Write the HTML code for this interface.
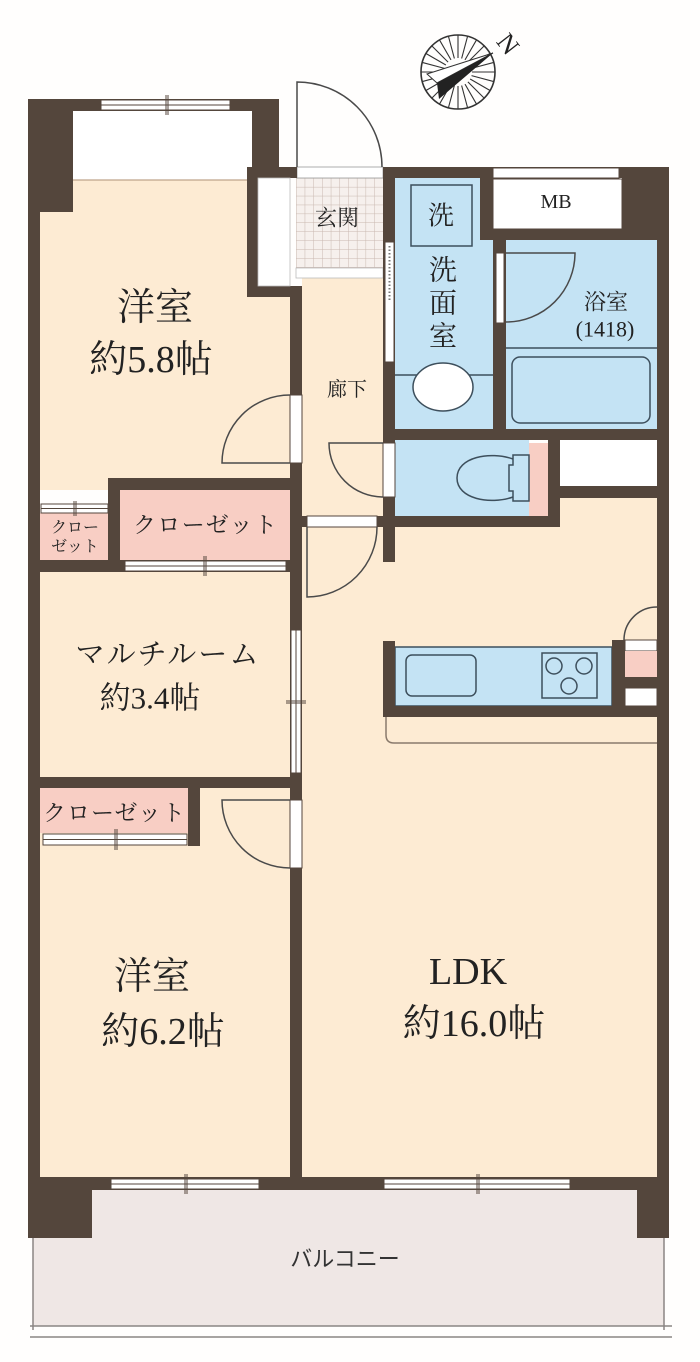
<!DOCTYPE html>
<html><head><meta charset="utf-8"><style>
html,body{margin:0;padding:0;background:#fffefd;}
svg{display:block;}
.t{font-family:"Liberation Serif","Noto Serif CJK SC",serif;fill:#222;text-anchor:middle;dominant-baseline:central;}
.s{font-family:"Liberation Sans","Noto Sans CJK JP",sans-serif;fill:#333;text-anchor:middle;dominant-baseline:central;}
</style></head><body>
<svg width="700" height="1362" viewBox="0 0 700 1362" xmlns="http://www.w3.org/2000/svg">
<defs>
<pattern id="tile" width="8.7" height="8.9" patternUnits="userSpaceOnUse" x="296" y="178">
<rect width="8.7" height="8.9" fill="#f6f0ed"/>
<path d="M0,0 H8.7 M0,0 V8.9" stroke="#c9b8b0" stroke-width="1"/>
</pattern>
</defs>
<rect width="700" height="1362" fill="#fffefd"/>

<!-- floors -->
<g fill="#fdebd3">
<rect x="40" y="180" width="250" height="310"/>
<rect x="40" y="572" width="250" height="205"/>
<rect x="40" y="788" width="250" height="389"/>
<rect x="302" y="278" width="81" height="249"/>
<rect x="302" y="498" width="355" height="679"/>
</g>
<rect x="73" y="111" width="179" height="69" fill="#fff"/>
<line x1="73" y1="180" x2="247" y2="180" stroke="#bfa58a" stroke-width="1.2"/>
<rect x="258" y="178" width="32" height="108" fill="#fff"/>

<!-- genkan -->
<rect x="296" y="178" width="87" height="90" fill="url(#tile)"/>
<rect x="296" y="268" width="87" height="10" fill="#fff" stroke="#bbb" stroke-width="0.8"/>
<rect x="297" y="167" width="86" height="11" fill="#fff" stroke="#999" stroke-width="0.8"/>

<!-- pink closets -->
<g fill="#f8cec4">
<rect x="40" y="513" width="68" height="47"/>
<rect x="120" y="490" width="170" height="70"/>
<rect x="40" y="788" width="148" height="45"/>
<rect x="529" y="443" width="19" height="73"/>
</g>

<!-- blue wet areas -->
<g fill="#c4e3f4">
<rect x="395" y="178" width="98" height="251"/>
<rect x="506" y="240" width="151" height="189"/>
<rect x="395" y="440" width="134" height="76"/>
<rect x="395" y="647" width="217" height="59"/>
</g>
<rect x="560" y="440" width="97" height="46" fill="#fff"/>

<!-- balcony -->
<rect x="92" y="1190" width="545" height="48" fill="#efe7e5"/>
<rect x="33" y="1238" width="631" height="88" fill="#efe7e5"/>
<g stroke="#8a8583" stroke-width="1.5">
<line x1="33" y1="1238" x2="33" y2="1330"/>
<line x1="664" y1="1238" x2="664" y2="1330"/>
<line x1="30" y1="1326" x2="672" y2="1326"/>
<line x1="30" y1="1337" x2="672" y2="1337"/>
</g>

<!-- fixtures -->
<g fill="none" stroke="#3d4f5c" stroke-width="1.5">
<rect x="411" y="185" width="61" height="61"/>
<line x1="395" y1="375" x2="493" y2="375"/>
<ellipse cx="443" cy="387" rx="30" ry="24" fill="#fff"/>
<line x1="506" y1="348" x2="657" y2="348"/>
<rect x="512" y="357" width="138" height="66" rx="8"/>
<path d="M513,459 C490,451 457,457 457,478 C457,499 490,505 513,497"/>
<path d="M513,455 H529 V501 H513 V491 H509 V465 H513 Z"/>
<rect x="395" y="647" width="217" height="59"/>
<rect x="406" y="655" width="70" height="41" rx="6"/>
<rect x="542" y="653" width="55" height="45"/>
<circle cx="554" cy="666" r="8"/>
<circle cx="584" cy="666" r="8"/>
<circle cx="569" cy="686" r="8"/>
</g>
<path d="M386,717 V735 Q386,743 394,743 H657" fill="none" stroke="#8a7a6c" stroke-width="1.5"/>

<!-- walls -->
<g fill="#54463c">
<rect x="28" y="99" width="251" height="12"/>
<rect x="28" y="99" width="45" height="113"/>
<rect x="252" y="99" width="27" height="68"/>
<rect x="247" y="167" width="50" height="11"/>
<rect x="247" y="167" width="11" height="130"/>
<rect x="247" y="286" width="55" height="11"/>
<rect x="290" y="286" width="12" height="904"/>
<rect x="28" y="99" width="12" height="1139"/>
<rect x="108" y="478" width="194" height="12"/>
<rect x="108" y="478" width="12" height="94"/>
<rect x="28" y="560" width="274" height="12"/>
<rect x="28" y="777" width="274" height="11"/>
<rect x="188" y="788" width="12" height="58"/>
<rect x="28" y="1177" width="641" height="13"/>
<rect x="28" y="1177" width="64" height="61"/>
<rect x="637" y="1177" width="32" height="61"/>
<rect x="657" y="167" width="12" height="1071"/>
<rect x="383" y="167" width="286" height="11"/>
<rect x="622" y="167" width="47" height="73"/>
<rect x="480" y="178" width="13" height="62"/>
<rect x="480" y="229" width="189" height="11"/>
<rect x="493" y="240" width="13" height="189"/>
<rect x="383" y="167" width="12" height="395"/>
<rect x="383" y="429" width="286" height="11"/>
<rect x="548" y="440" width="12" height="87"/>
<rect x="560" y="486" width="109" height="12"/>
<rect x="302" y="516" width="258" height="11"/>
<rect x="383" y="641" width="12" height="76"/>
<rect x="383" y="706" width="274" height="11"/>
<rect x="612" y="640" width="45" height="77"/>
</g>

<!-- openings / windows -->
<g fill="#fff" stroke="#54463c" stroke-width="1">
<rect x="101" y="100" width="129" height="10"/>
<rect x="290" y="395" width="12" height="68"/>
<rect x="291" y="630" width="10" height="143"/>
<rect x="290" y="800" width="12" height="68"/>
<rect x="41" y="504" width="67" height="9"/>
<rect x="125" y="561" width="161" height="10"/>
<rect x="43" y="834" width="144" height="11"/>
<rect x="111" y="1179" width="148" height="10"/>
<rect x="384" y="1179" width="186" height="10"/>
<rect x="493" y="168" width="126" height="10"/>
<rect x="493" y="179" width="129" height="50"/>
<rect x="496" y="253" width="8" height="70"/>
<rect x="385" y="242" width="9" height="120"/>
<rect x="383" y="443" width="12" height="54"/>
<rect x="307" y="516" width="70" height="11"/>
<rect x="625" y="640" width="32" height="11"/>
<rect x="625" y="688" width="32" height="18"/>
</g>
<rect x="625" y="651" width="32" height="26" fill="#f8cec4"/>
<rect x="258" y="178" width="32" height="108" fill="none" stroke="#bbb" stroke-width="0.8"/>
<line x1="389.5" y1="246" x2="389.5" y2="300" stroke="#777" stroke-width="2" stroke-dasharray="1.5,2"/>

<!-- window mid lines & hatches -->
<g stroke="#54463c" stroke-width="1">
<line x1="101" y1="105" x2="230" y2="105"/>
<line x1="166" y1="95" x2="166" y2="115"/><line x1="168" y1="95" x2="168" y2="115"/>
<line x1="296" y1="630" x2="296" y2="773"/>
<line x1="286" y1="701" x2="306" y2="701"/><line x1="286" y1="703" x2="306" y2="703"/>
<line x1="41" y1="508.5" x2="108" y2="508.5"/>
<line x1="74" y1="501" x2="74" y2="516"/><line x1="76" y1="501" x2="76" y2="516"/>
<line x1="125" y1="566" x2="286" y2="566"/>
<line x1="204" y1="556" x2="204" y2="576"/><line x1="206" y1="556" x2="206" y2="576"/>
<line x1="43" y1="839.5" x2="187" y2="839.5"/>
<line x1="115" y1="829" x2="115" y2="850"/><line x1="117" y1="829" x2="117" y2="850"/>
<line x1="111" y1="1184" x2="259" y2="1184"/>
<line x1="185" y1="1174" x2="185" y2="1194"/><line x1="187" y1="1174" x2="187" y2="1194"/>
<line x1="384" y1="1184" x2="570" y2="1184"/>
<line x1="477" y1="1174" x2="477" y2="1194"/><line x1="479" y1="1174" x2="479" y2="1194"/>
</g>

<!-- doors -->
<g fill="none" stroke="#4a4a4a" stroke-width="1.5">
<path d="M297,167 V82 A85,85 0 0 1 382,167"/>
<path d="M290,463 H222 A68,68 0 0 1 290,395"/>
<path d="M290,800 H222 A68,68 0 0 0 290,868"/>
<path d="M383,443 H329 A54,54 0 0 0 383,497"/>
<path d="M307,527 V597 A70,70 0 0 0 377,527"/>
<path d="M506,253 H575 A69,69 0 0 1 506,322"/>
<path d="M624,640 A33,33 0 0 1 657,607"/>
</g>

<!-- compass -->
<g stroke="#333" stroke-width="1.1" fill="none">
<circle cx="458" cy="72" r="37" stroke-width="1.6"/>
<line x1="458" y1="35" x2="458" y2="58"/>
<line x1="458" y1="35" x2="458" y2="58" transform="rotate(15 458 72)"/>
<line x1="458" y1="35" x2="458" y2="58" transform="rotate(30 458 72)"/>
<line x1="458" y1="35" x2="458" y2="58" transform="rotate(45 458 72)"/>
<line x1="458" y1="35" x2="458" y2="58" transform="rotate(60 458 72)"/>
<line x1="458" y1="35" x2="458" y2="58" transform="rotate(75 458 72)"/>
<line x1="458" y1="35" x2="458" y2="58" transform="rotate(90 458 72)"/>
<line x1="458" y1="35" x2="458" y2="58" transform="rotate(105 458 72)"/>
<line x1="458" y1="35" x2="458" y2="58" transform="rotate(120 458 72)"/>
<line x1="458" y1="35" x2="458" y2="58" transform="rotate(135 458 72)"/>
<line x1="458" y1="35" x2="458" y2="58" transform="rotate(150 458 72)"/>
<line x1="458" y1="35" x2="458" y2="58" transform="rotate(165 458 72)"/>
<line x1="458" y1="35" x2="458" y2="58" transform="rotate(180 458 72)"/>
<line x1="458" y1="35" x2="458" y2="58" transform="rotate(195 458 72)"/>
<line x1="458" y1="35" x2="458" y2="58" transform="rotate(210 458 72)"/>
<line x1="458" y1="35" x2="458" y2="58" transform="rotate(225 458 72)"/>
<line x1="458" y1="35" x2="458" y2="58" transform="rotate(240 458 72)"/>
<line x1="458" y1="35" x2="458" y2="58" transform="rotate(255 458 72)"/>
<line x1="458" y1="35" x2="458" y2="58" transform="rotate(270 458 72)"/>
<line x1="458" y1="35" x2="458" y2="58" transform="rotate(285 458 72)"/>
<line x1="458" y1="35" x2="458" y2="58" transform="rotate(300 458 72)"/>
<line x1="458" y1="35" x2="458" y2="58" transform="rotate(315 458 72)"/>
<line x1="458" y1="35" x2="458" y2="58" transform="rotate(330 458 72)"/>
<line x1="458" y1="35" x2="458" y2="58" transform="rotate(345 458 72)"/>
</g>
<polygon points="427,74 493,53 437,83" fill="#fff" stroke="#333" stroke-width="1"/>
<polygon points="437,83 493,53 439,99" fill="#222"/>
<text class="t" x="508" y="44" font-size="26" transform="rotate(52 508 44)">N</text>

<!-- labels -->
<text class="t" x="155" y="308" font-size="38">洋室</text>
<text class="t" x="151" y="360" font-size="38">約5.8帖</text>
<text class="t" x="337" y="218" font-size="22">玄関</text>
<text class="t" x="441" y="216" font-size="26">洗</text>
<text class="t" x="443" y="271" font-size="28">洗</text>
<text class="t" x="443" y="304" font-size="28">面</text>
<text class="t" x="443" y="337" font-size="28">室</text>
<text class="t" x="556" y="202" font-size="20">MB</text>
<text class="t" x="606" y="302" font-size="22">浴室</text>
<text class="t" x="605" y="329" font-size="22">(1418)</text>
<text class="t" x="347" y="390" font-size="20">廊下</text>
<text class="t" x="205" y="525" font-size="23" textLength="144">クローゼット</text>
<text class="t" x="75" y="528" font-size="16">クロー</text>
<text class="t" x="75" y="547" font-size="16">ゼット</text>
<text class="t" x="167" y="655" font-size="29" textLength="183">マルチルーム</text>
<text class="t" x="150" y="698" font-size="31">約3.4帖</text>
<text class="t" x="114" y="813" font-size="23" textLength="142">クローゼット</text>
<text class="t" x="152" y="977" font-size="38">洋室</text>
<text class="t" x="163" y="1032" font-size="38">約6.2帖</text>
<text class="t" x="468" y="972" font-size="38">LDK</text>
<text class="t" x="474" y="1024" font-size="38">約16.0帖</text>
<text class="s" x="345" y="1259" font-size="22">バルコニー</text>
</svg>
</body></html>
